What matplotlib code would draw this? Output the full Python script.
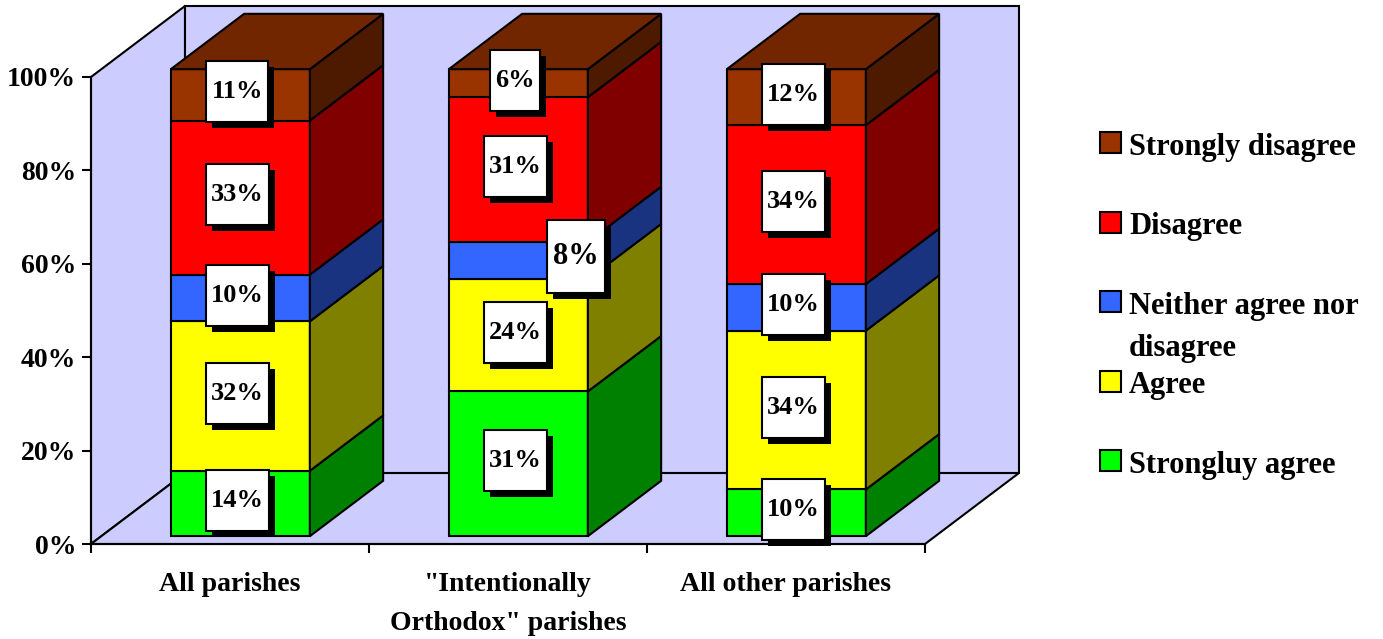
import matplotlib
matplotlib.use("Agg")
import numpy as np
import matplotlib.pyplot as plt
from matplotlib.patches import Polygon, Rectangle
from matplotlib.path import Path
from matplotlib.ticker import PercentFormatter
from matplotlib.transforms import offset_copy, IdentityTransform

# ---- data -------------------------------------------------------------
categories = ["All parishes",
              "\"Intentionally\nOrthodox\" parishes",
              "All other parishes"]
series = ["Strongluy agree", "Agree", "Neither agree nor\ndisagree",
          "Disagree", "Strongly disagree"]
strongly_agree = [14, 31, 10]
agree = [32, 24, 34]
neither = [10, 8, 10]
disagree = [33, 31, 34]
strongly_disagree = [11, 6, 12]
yticks = [0, 20, 40, 60, 80, 100]

# ---- styling ----------------------------------------------------------
front_colors = ["#00ff00", "#ffff00", "#3366ff", "#ff0000", "#993300"]
side_colors = ["#008000", "#808000", "#1a3380", "#800000", "#4d1a00"]
top_colors = ["#00c000", "#c0c000", "#264dbf", "#c00000", "#722600"]
wall_color = "#ccccff"

plt.rcParams["font.family"] = ["Liberation Serif", "DejaVu Serif"]
plt.rcParams["font.weight"] = "bold"

W, H = 1383, 639
fig = plt.figure(figsize=(W / 100, H / 100), dpi=100)
fig.patch.set_facecolor("white")
ax = fig.add_axes([91 / W, (H - 544) / H, 834 / W, 467 / H])
n = len(categories)
ax.set_xlim(0, n)
ax.set_ylim(0, 100)
ax.patch.set_visible(False)

# 3-D depth of the walls (x in category units, y in percent units)
DX, DY = 0.338, 15.2
# bar placement inside the depth
FX, FY = 0.11 * DX, 0.11 * DY
BX, BY = 0.78 * DX, 0.78 * DY
half = 0.25

wall_kw = dict(facecolor=wall_color, edgecolor="black", lw=1.5,
               clip_on=False, zorder=0.5, joinstyle="miter")
ax.add_patch(Polygon([(DX, DY), (n + DX, DY), (n + DX, 100 + DY), (DX, 100 + DY)], **wall_kw))
ax.add_patch(Polygon([(0, 0), (DX, DY), (DX, 100 + DY), (0, 100)], **wall_kw))
ax.add_patch(Polygon([(0, 0), (n, 0), (n + DX, DY), (DX, DY)], **wall_kw))

stack = np.array([strongly_agree, agree, neither, disagree, strongly_disagree], float)
bottoms = np.vstack([np.zeros(n), np.cumsum(stack, axis=0)[:-1]])

edge_kw = dict(edgecolor="black", lw=1.5, clip_on=False, zorder=1, joinstyle="miter")
for i in range(n):
    x0 = i + 0.5 - half + FX
    x1 = i + 0.5 + half + FX
    for s in range(len(series)):
        b = bottoms[s, i] + FY
        t = b + stack[s, i]
        ax.add_patch(Polygon([(x0, b), (x1, b), (x1, t), (x0, t)],
                             facecolor=front_colors[s], **edge_kw))
        ax.add_patch(Polygon([(x1, b), (x1 + BX, b + BY), (x1 + BX, t + BY), (x1, t)],
                             facecolor=side_colors[s], **edge_kw))
        if s == len(series) - 1:
            ax.add_patch(Polygon([(x0, t), (x1, t), (x1 + BX, t + BY), (x0 + BX, t + BY)],
                                 facecolor=top_colors[s], **edge_kw))


# ---- value labels: white boxes with a drop shadow -----------------------
def label_box(x0, y0, width, height, mutation_size):
    px, py = 0.2 * mutation_size, 0.72 * mutation_size
    x0, y0 = x0 - px, y0 - py
    w, h = width + 2 * px, height + 2 * py
    return Path([(x0, y0), (x0 + w, y0), (x0 + w, y0 + h), (x0, y0 + h), (x0, y0)],
                closed=True)


moved_labels = {(1, 2): (61, 1)}   # (category, series): shift in pixels
value_labels = []
for i in range(n):
    for s in range(len(series)):
        v = stack[s, i]
        cx = i + 0.5 + FX
        cy = bottoms[s, i] + FY + v / 2
        sx, sy = moved_labels.get((i, s), (0, 0))
        size = 22 if (i, s) in moved_labels else 19
        main_tr = offset_copy(ax.transData, fig=fig, x=sx - 3, y=sy + 3, units="dots")
        t = ax.text(cx, cy, f"{v:.0f}%", transform=main_tr, ha="center", va="center",
                    fontsize=size, color="black", zorder=6, clip_on=False,
                    bbox=dict(boxstyle=label_box, facecolor="white",
                              edgecolor="black", lw=1.5))
        value_labels.append(t)

# ---- axes -------------------------------------------------------------
for side in ("top", "right"):
    ax.spines[side].set_visible(False)
for side in ("left", "bottom"):
    ax.spines[side].set_linewidth(1.5)
    ax.spines[side].set_zorder(2.5)

ax.set_yticks(yticks)
ax.yaxis.set_major_formatter(PercentFormatter(xmax=100, decimals=0))
ax.tick_params(axis="y", direction="out", length=6.5, width=1.5, pad=4.3, labelsize=20)

ax.set_xticks(np.arange(n + 1))
ax.set_xticklabels([])
ax.set_xticks(np.arange(n) + 0.5, minor=True)
ax.set_xticklabels(categories, minor=True, fontsize=20)
ax.tick_params(axis="x", which="major", direction="out", length=6.5, width=1.5)
ax.tick_params(axis="x", which="minor", length=0, pad=20)
for lbl in ax.get_xticklabels(minor=True):
    lbl.set_linespacing(1.75)

# ---- legend -----------------------------------------------------------
for k, s in enumerate(reversed(range(len(series)))):
    base = 153.3 + 79.5 * k          # baseline of the entry's first line
    fig.add_artist(Rectangle((1100 / W, 1 - base / H), 21 / W, 21 / H,
                             transform=fig.transFigure, facecolor=front_colors[s],
                             edgecolor="black", lw=1.5))
    fig.text(1129 / W, 1 - (base - 20.7) / H, series[s], ha="left", va="top",
             fontsize=22, linespacing=1.61)

# drop shadows behind the value-label boxes (6 px right and down)
fig.canvas.draw()
for t in value_labels:
    bb = t.get_bbox_patch().get_window_extent()
    ax.add_artist(Rectangle((bb.x0 + 6, bb.y0 - 6), bb.width, bb.height,
                            transform=IdentityTransform(), facecolor="black",
                            edgecolor="none", zorder=5, clip_on=False))

fig.savefig("out.png", dpi=100)
